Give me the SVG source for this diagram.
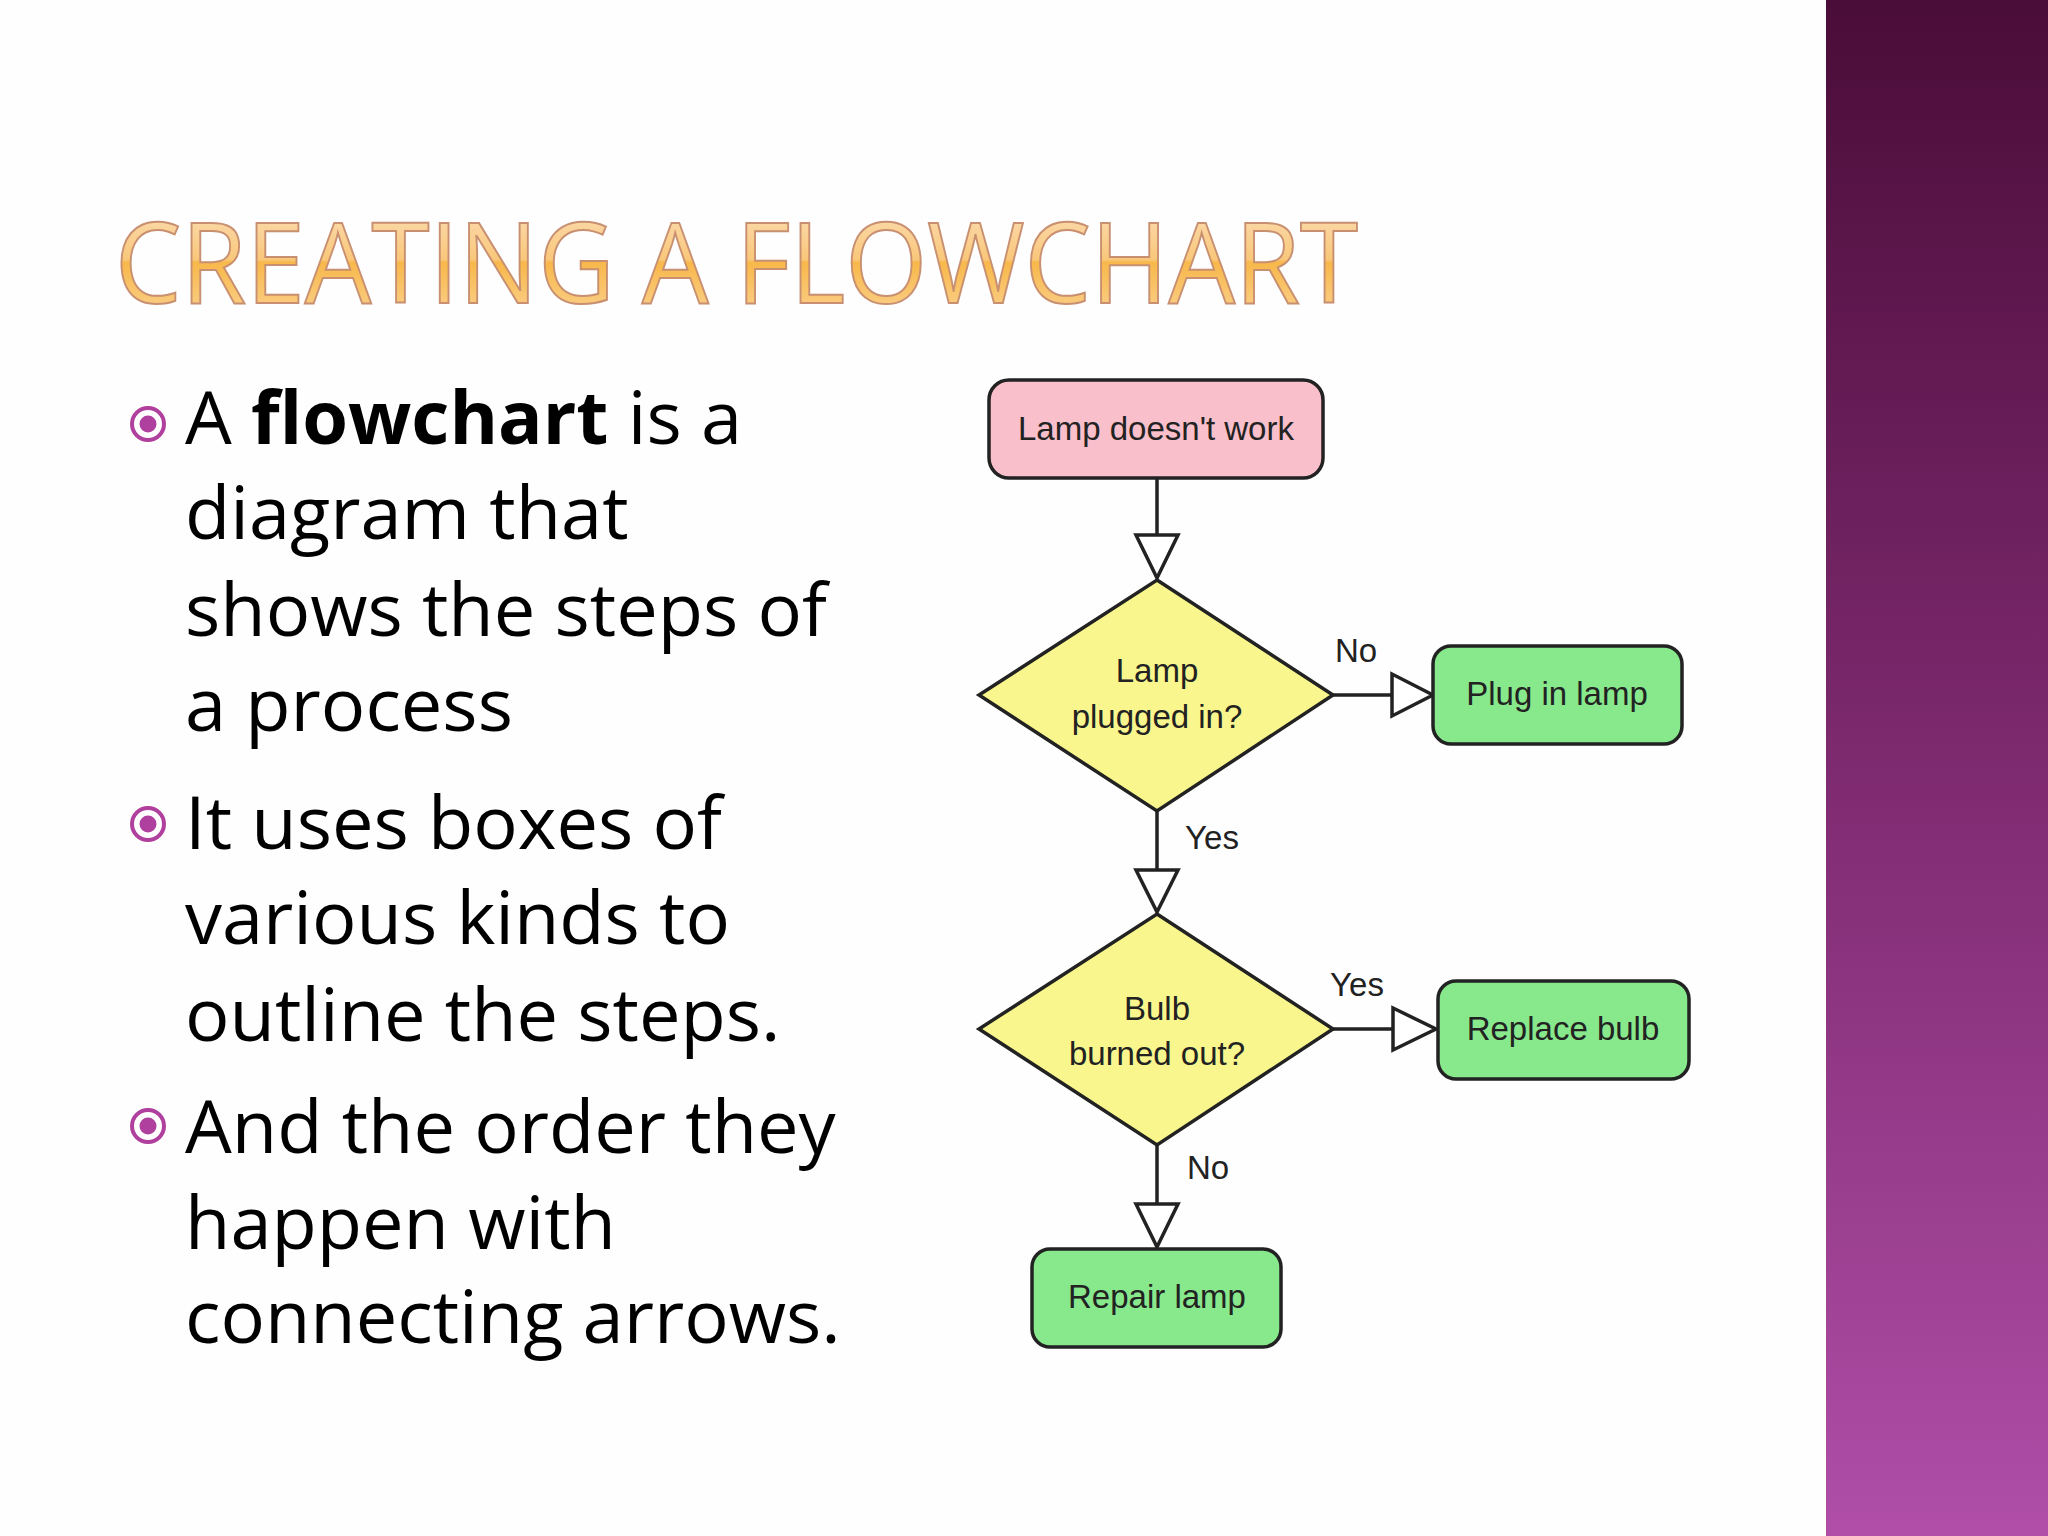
<svg xmlns="http://www.w3.org/2000/svg" width="2048" height="1536" viewBox="0 0 2048 1536">
<defs>
<linearGradient id="bar" x1="0" y1="0" x2="0" y2="1"><stop offset="0" stop-color="#4a0c38"/><stop offset="0.5" stop-color="#7e2a70"/><stop offset="1" stop-color="#b04ea8"/></linearGradient>
<linearGradient id="title" x1="0" y1="0" x2="0" y2="1"><stop offset="0" stop-color="#fde6cc"/><stop offset="0.5" stop-color="#f9c77a"/><stop offset="0.52" stop-color="#f8b84a"/><stop offset="1" stop-color="#fbd9a6"/></linearGradient>
<g id="bul"><circle r="16" fill="none" stroke="#b0409e" stroke-width="4"/><circle r="8.5" fill="#b0409e"/></g>
</defs>
<style>
.bt{font-family:"Open Sans","Liberation Sans",sans-serif;font-size:74px;fill:#000}
.n{stroke:#222;stroke-width:3.5}
.l{font-family:"Liberation Sans",Arial,sans-serif;font-size:33px;fill:#222;text-anchor:middle}
.c{fill:none;stroke:#222;stroke-width:3.5}
.h{fill:#fff;stroke:#222;stroke-width:3.5}
</style>
<rect width="2048" height="1536" fill="#fefefe"/>
<rect x="1826" y="0" width="222" height="1536" fill="url(#bar)"/>
<text x="115" y="303" font-family="Open Sans,Liberation Sans,sans-serif" font-size="112" fill="url(#title)" stroke="#c89070" stroke-width="2" textLength="1243" lengthAdjust="spacingAndGlyphs">CREATING A FLOWCHART</text>
<use href="#bul" x="148" y="424"/><use href="#bul" x="148" y="824"/><use href="#bul" x="148" y="1126"/>
<text class="bt" x="185" y="444">A <tspan font-weight="bold">flowchart</tspan> is a</text>
<text class="bt" x="185" y="539">diagram that</text>
<text class="bt" x="185" y="636">shows the steps of</text>
<text class="bt" x="185" y="731">a process</text>
<text class="bt" x="185" y="849">It uses boxes of</text>
<text class="bt" x="185" y="944">various kinds to</text>
<text class="bt" x="185" y="1041">outline the steps.</text>
<text class="bt" x="185" y="1153">And the order they</text>
<text class="bt" x="185" y="1249">happen with</text>
<text class="bt" x="185" y="1343">connecting arrows.</text>
<g id="connectors">
<path class="c" d="M1157 478V535M1333 695H1392M1157 811V870M1333 1029H1393M1157 1145V1204"/>
<path class="h" d="M1136 535H1178L1157 578ZM1392 674V716L1433 695ZM1136 870H1178L1157 912ZM1393 1008V1050L1436 1029ZM1136 1204H1178L1157 1247Z"/>
<text class="l" x="1356" y="662">No</text>
<text class="l" x="1212" y="849">Yes</text>
<text class="l" x="1357" y="996">Yes</text>
<text class="l" x="1208" y="1179">No</text>
</g>
<g id="start"><rect class="n" x="989" y="380" width="334" height="98" rx="20" fill="#f9bfca"/><text class="l" x="1156" y="440">Lamp doesn't work</text></g>
<g id="d1"><path class="n" d="M1157 580L1333 695L1157 811L979 695Z" fill="#f8f68c"/><text class="l" x="1157" y="682">Lamp</text><text class="l" x="1157" y="728">plugged in?</text></g>
<g id="plug"><rect class="n" x="1433" y="646" width="249" height="98" rx="18" fill="#88e88c"/><text class="l" x="1557" y="705">Plug in lamp</text></g>
<g id="d2"><path class="n" d="M1157 914L1333 1029L1157 1145L979 1029Z" fill="#f8f68c"/><text class="l" x="1157" y="1020">Bulb</text><text class="l" x="1157" y="1065">burned out?</text></g>
<g id="replace"><rect class="n" x="1438" y="981" width="251" height="98" rx="18" fill="#88e88c"/><text class="l" x="1563" y="1040">Replace bulb</text></g>
<g id="repair"><rect class="n" x="1032" y="1249" width="249" height="98" rx="18" fill="#88e88c"/><text class="l" x="1157" y="1308">Repair lamp</text></g>
</svg>
